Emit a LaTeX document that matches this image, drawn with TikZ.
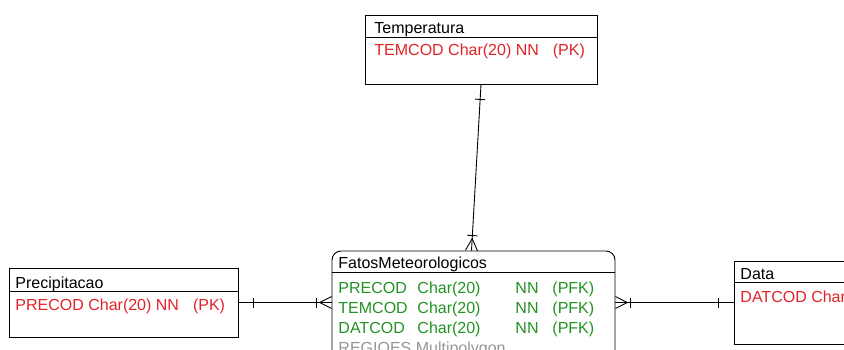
\documentclass[tikz,border=0pt]{standalone}
\usepackage{fontspec}
\setmainfont{Liberation Sans}
\usetikzlibrary{calc}
\definecolor{keyred}{RGB}{225,35,40}
\definecolor{fkgreen}{RGB}{35,145,35}
\definecolor{attrgray}{RGB}{150,150,150}
% crow's foot at #1 on the line to #2, and a single bar at #1
\newcommand\crowfoot[2]{%
  \draw ($(#1)!6pt!90:(#2)$) -- ($(#1)!12pt!(#2)$) -- ($(#1)!6pt!-90:(#2)$);
  \draw ($(#1)!15pt!(#2)!5pt!90:(#2)$) -- ($(#1)!15pt!(#2)!5pt!-90:(#2)$);}
\newcommand\onebar[2]{%
  \draw ($(#1)!15pt!(#2)!5pt!90:(#2)$) -- ($(#1)!15pt!(#2)!5pt!-90:(#2)$);}
\begin{document}
\begin{tikzpicture}[x=1pt,y=-1pt,line width=0.9pt]
        \clip (0,0) rectangle (844,350);
        \useasboundingbox (0,0) rectangle (844,350);
        % entities
        \begin{scope}[every node/.style={draw,inner sep=0pt}]
          \node[minimum width=232pt,minimum height=69pt] (temp) at (481,49.5) {};
          \node[minimum width=229pt,minimum height=69pt] (prec) at (123.5,302.5) {};
          \node[minimum width=226pt,minimum height=83pt] (data) at (847,302.5) {};
          \node[minimum width=283pt,minimum height=130pt,rounded corners=9pt] (fatos) at (473.5,316) {};
        \end{scope}
        \draw ([yshift=-23pt]temp.north west) -- ([yshift=-23pt]temp.north east);
        \draw ([yshift=-24pt]prec.north west) -- ([yshift=-24pt]prec.north east);
        \draw ([yshift=-22pt]data.north west) -- ([yshift=-22pt]data.north east);
        \draw ([yshift=-22pt]fatos.north west) -- ([yshift=-22pt]fatos.north east);
        % attributes
        \begin{scope}[every node/.style={anchor=base west,inner sep=0pt,font=\fontsize{16}{19}\selectfont}]
          \node (temp-t) at (374,34) {Temperatura};
          \node[keyred] (temp-k) at (374,56) {TEMCOD Char(20) NN\hspace{14pt}(PK)};
          \node (prec-t) at (15,288) {Precipitacao};
          \node[keyred] (prec-k) at (15,310) {PRECOD Char(20) NN\hspace{14pt}(PK)};
          \node (data-t) at (740,279) {Data};
          \node[keyred] (data-k) at (740,302) {DATCOD Char(20) NN\hspace{14pt}(PK)};
          \node (fatos-t) at (338,269) {FatosMeteorologicos};
          \node[fkgreen] (pre-1) at (338,293) {PRECOD};
          \node[fkgreen] (pre-2) at (417,293) {Char(20)};
          \node[fkgreen] (pre-3) at (515,293) {NN};
          \node[fkgreen] (pre-4) at (552,293) {(PFK)};
          \node[fkgreen] (tem-1) at (338,313) {TEMCOD};
          \node[fkgreen] (tem-2) at (417,313) {Char(20)};
          \node[fkgreen] (tem-3) at (515,313) {NN};
          \node[fkgreen] (tem-4) at (552,313) {(PFK)};
          \node[fkgreen] (dat-1) at (338,333) {DATCOD};
          \node[fkgreen] (dat-2) at (417,333) {Char(20)};
          \node[fkgreen] (dat-3) at (515,333) {NN};
          \node[fkgreen] (dat-4) at (552,333) {(PFK)};
          \node[attrgray] (reg) at (338,353) {REGIOES Multipolygon};
        \end{scope}
        % relationships
        \coordinate (ft) at ([xshift=-2pt]fatos.north);
        \coordinate (fl) at (prec.east -| fatos.west);
        \coordinate (fr) at (data.west -| fatos.east);
        \draw (ft) -- (temp.south);
        \draw (fl) -- (prec.east);
        \draw (fr) -- (data.west);
        \crowfoot{ft}{temp.south} \onebar{temp.south}{ft}
        \crowfoot{fl}{prec.east}  \onebar{prec.east}{fl}
        \crowfoot{fr}{data.west}  \onebar{data.west}{fr}
\end{tikzpicture}
\end{document}
